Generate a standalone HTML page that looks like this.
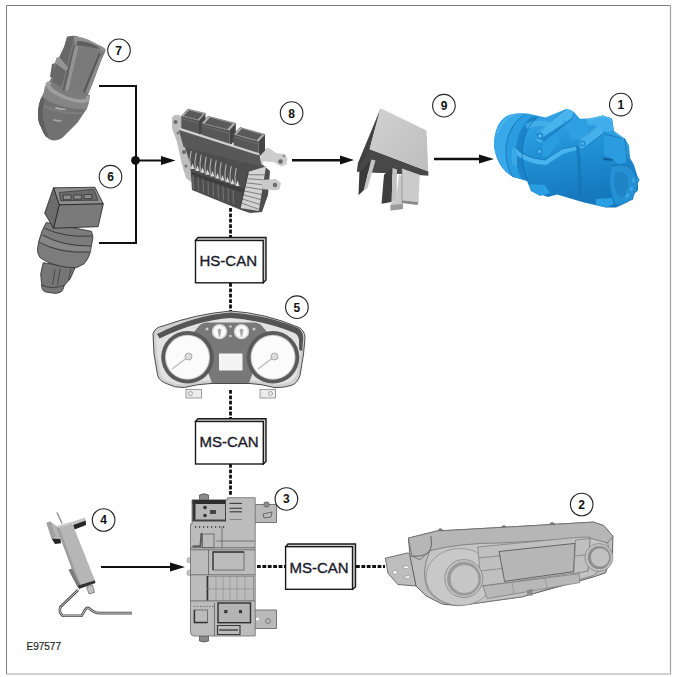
<!DOCTYPE html>
<html><head><meta charset="utf-8">
<style>
html,body{margin:0;padding:0;background:#fff;}
svg{display:block;}
text{font-family:"Liberation Sans",sans-serif;}
</style></head>
<body>
<svg width="675" height="677" viewBox="0 0 675 677">
<defs>
<marker id="ah" markerWidth="10" markerHeight="10" refX="0" refY="0" orient="auto" markerUnits="userSpaceOnUse" viewBox="-15 -5 15 10">
<path d="M-15,-4.5 L0,0 L-15,4.5 Z" fill="#111"/>
</marker>
</defs>
<path d="M6.5,674 L6.5,5.5 L670.5,5.5" fill="none" stroke="#7c7c7c" stroke-width="1"/>
<path d="M670.5,5.5 L670.5,674 L6.5,674" fill="none" stroke="#a4a4a4" stroke-width="1.2"/>

<!-- COMPONENTS -->
<g id="components">
<!-- sensor 7 -->
<g id="s7">
<path d="M43.9,93 Q37,104 38,116.6 Q38.5,124 41,127 Q43.5,134 45.9,136.4 Q50,140.8 54.8,140.5 Q60,139.8 62.7,137.4 L67.7,132.4 L77.6,122.5 L87,108.5 Z" fill="#717171"/>
<path d="M43.9,93 Q37,104 38,116.6 Q38.5,124 41,127 Q43.5,134 45.9,136.4 L49,137 Q43,125 42.5,112 Q43,100 47,95 Z" fill="#5f5f5f"/>
<path d="M55.5,107 Q62,109 66,108.8 L65.5,110 Q61,110.5 55,108.5 Z" fill="#b0b0b0"/>
<path d="M53.5,119 Q58,120.5 62,120 L61.5,121.5 Q57,122 53,120.5 Z" fill="#a8a8a8"/>
<path d="M44,105 Q62,113 84,112.5 L83,114.5 Q62,115 44,107.5 Z" fill="#7e7e7e"/>
<path d="M45,86 L90,95 L88.8,103 L86.8,109.5 Q60,109 42.6,97.5 Z" fill="#858585"/>
<ellipse cx="67.5" cy="91.8" rx="23.5" ry="7.8" transform="rotate(21 67.5 91.8)" fill="#9e9e9e"/>
<ellipse cx="68.5" cy="91" rx="19" ry="5.5" transform="rotate(21 68.5 91)" fill="#7c7c7c"/>
<path d="M67.1,36.7 L73.9,35.8 Q78,36 79.7,37.2 L91.2,41.6 L102.8,47.3 L105.7,49.3 L105.2,51.7 L101.8,58.9 L93.2,82 L87.5,96 Q70,93 53.5,86 L49.5,81 L51.7,77.2 L55.6,61.8 L56.6,57.9 L59.4,57 L64.3,46.4 Z" fill="#7a7a7a"/>
<path d="M67.1,36.7 L73.9,35.8 L72,45 L64,77 L61,87 L52.7,82 L55.6,61.8 L59.4,57 L64.3,46.4 Z" fill="#686868"/>
<path d="M74,37 Q80,36 88,39.5 L103,47 L105.5,50 L103,52 Q95,47 84,45 Q77,44 75.5,44 Z" fill="#909090"/>
<path d="M77,41 Q86,41 97,46 L101,49.5 Q92,47 84,46 L77,45 Z" fill="#5e5e5e"/>
<path d="M74.9,45.4 L78.5,46.3 L68.5,90.5 L64.8,90.5 Z" fill="#939393"/>
<path d="M73.5,45.5 L74.9,45.4 L64.3,91 L62.5,90 Z" fill="#5e5e5e"/>
<path d="M97,55 L101.8,57 L93.2,82 L88.5,93 L85.5,92 Z" fill="#8a8a8a"/>
<path d="M98.5,53.5 L100.5,54 L85,92.5 L83,92 Z" fill="#555"/>
<path d="M56.6,57.9 L59.4,57 L68.1,67.6 L66,71 L55,63 Z" fill="#959595"/>
<path d="M52,64 L55,63 L53,78 L50,77 Z" fill="#666"/>
</g>
<!-- ECU 8 -->
<g id="ecu">
<path d="M172,118 Q174,114 179,115 L183,118 L184,144 L190,150 L191,182 L186,178 L182,165 L177,142 L172,128 Z" fill="#bdbdbd"/>
<circle cx="175.5" cy="122" r="2" fill="#6a6a6a"/>
<circle cx="178" cy="133" r="1.5" fill="#7a7a7a"/>
<circle cx="184" cy="152" r="2" fill="#6a6a6a"/>
<circle cx="186" cy="166" r="1.6" fill="#777"/>
<path d="M184,144 L262,164 L270,171 L268,195 L262,212 L250,213 L241,210 L192,190 L190,163 Z" fill="#4e4e4e"/>
<g fill="#d8d8d8"><path d="M190.5,169.0 L192.5,163.5 L194.5,169.0 Z"/><path d="M195.5,170.9 L197.5,165.4 L199.5,170.9 Z"/><path d="M200.5,172.8 L202.5,167.3 L204.5,172.8 Z"/><path d="M205.5,174.7 L207.5,169.2 L209.5,174.7 Z"/><path d="M210.5,176.6 L212.5,171.1 L214.5,176.6 Z"/><path d="M215.5,178.5 L217.5,173.0 L219.5,178.5 Z"/><path d="M220.5,180.4 L222.5,174.9 L224.5,180.4 Z"/><path d="M225.5,182.3 L227.5,176.8 L229.5,182.3 Z"/><path d="M230.5,184.2 L232.5,178.7 L234.5,184.2 Z"/><path d="M235.5,186.1 L237.5,180.6 L239.5,186.1 Z"/></g>
<g fill="none" stroke="#c8c8c8" stroke-width="0.9"><path d="M191.2,151.0 Q189.2,159.0 190.3,168.0" /><path d="M196.2,152.9 Q194.2,160.9 195.3,169.9" /><path d="M201.2,154.8 Q199.2,162.8 200.3,171.8" /><path d="M206.2,156.7 Q204.2,164.7 205.3,173.7" /><path d="M211.2,158.6 Q209.2,166.6 210.3,175.6" /><path d="M216.2,160.5 Q214.2,168.5 215.3,177.5" /><path d="M221.2,162.4 Q219.2,170.4 220.3,179.4" /><path d="M226.2,164.3 Q224.2,172.3 225.3,181.3" /><path d="M231.2,166.2 Q229.2,174.2 230.3,183.2" /><path d="M236.2,168.1 Q234.2,176.1 235.3,185.1" /></g>
<path d="M191.5,172 L244,189 L244,193 L191.5,176 Z" fill="#3e3e3e"/>
<g fill="none" stroke="#707070" stroke-width="1.2"><line x1="193.0" y1="175.0" x2="193.5" y2="189.0"/><line x1="198.0" y1="176.9" x2="198.5" y2="190.9"/><line x1="203.0" y1="178.8" x2="203.5" y2="192.8"/><line x1="208.0" y1="180.7" x2="208.5" y2="194.7"/><line x1="213.0" y1="182.6" x2="213.5" y2="196.6"/><line x1="218.0" y1="184.5" x2="218.5" y2="198.5"/><line x1="223.0" y1="186.4" x2="223.5" y2="200.4"/><line x1="228.0" y1="188.3" x2="228.5" y2="202.3"/><line x1="233.0" y1="190.2" x2="233.5" y2="204.2"/></g>
<path d="M248.4,171.7 L266,166.5 L258.8,211 L240.2,207.9 Z" fill="#d2d2d2"/>
<g stroke="#6a6a6a" stroke-width="0.8"><line x1="247.5" y1="174.7" x2="265.2" y2="174.9"/><line x1="246.6" y1="178.7" x2="264.4" y2="179.9"/><line x1="245.7" y1="182.8" x2="263.6" y2="184.8"/><line x1="244.8" y1="186.8" x2="262.8" y2="189.8"/><line x1="243.8" y1="190.8" x2="262.0" y2="194.7"/><line x1="242.9" y1="194.8" x2="261.2" y2="199.7"/><line x1="242.0" y1="198.9" x2="260.4" y2="204.6"/><line x1="241.1" y1="202.9" x2="259.6" y2="209.6"/></g>
<line x1="248.4" y1="171.7" x2="240.2" y2="207.9" stroke="#3a3a3a" stroke-width="1"/>
<path d="M260.9,180 L276,179 L281,183 L279.5,189 L276.4,190.3 L262.9,189.3 Z" fill="#cacaca"/>
<circle cx="275" cy="185" r="2.2" fill="#6a6a6a"/>
<path d="M259.4,150 L268.7,147.8 L276,153 L284.3,154 L287.4,158.2 L286.4,164.4 L281.2,166.5 L273.9,162.3 L263.6,161.3 L262,166.5 Z" fill="#cdcdcd"/>
<circle cx="280.5" cy="161.5" r="2.3" fill="#6a6a6a"/>
<circle cx="284" cy="156" r="1.3" fill="#888"/>
<path d="M181.3,116.3 L199.0,120.5 L199.0,136.5 L181.3,132.3 Z" fill="#575757"/>
<path d="M199.0,120.5 L205.5,113.4 L205.5,129.4 L199.0,136.5 Z" fill="#444"/>
<path d="M181.3,116.3 L187.8,109.2 L205.5,113.4 L199.0,120.5 Z" fill="#b5b5b5" stroke="#4a4a4a" stroke-width="0.6"/>
<path d="M183.5,116.0 L188.8,110.2 L203.3,113.7 L198.0,119.5 Z" fill="#5a5a5a"/>
<line x1="182.3" y1="118.8" x2="198.0" y2="123.0" stroke="#7a7a7a" stroke-width="0.6"/>
<path d="M201.4,123.4 L229.3,130.5 L229.3,146.5 L201.4,139.4 Z" fill="#575757"/>
<path d="M229.3,130.5 L235.8,123.4 L235.8,139.4 L229.3,146.5 Z" fill="#444"/>
<path d="M201.4,123.4 L207.9,116.3 L235.8,123.4 L229.3,130.5 Z" fill="#b5b5b5" stroke="#4a4a4a" stroke-width="0.6"/>
<path d="M204.5,123.4 L209.8,117.6 L232.7,123.4 L227.4,129.2 Z" fill="#5a5a5a"/>
<line x1="202.4" y1="125.9" x2="228.3" y2="133.0" stroke="#7a7a7a" stroke-width="0.6"/>
<path d="M233.5,134.6 L258.5,141.6 L258.5,157.6 L233.5,150.6 Z" fill="#575757"/>
<path d="M258.5,141.6 L265.0,134.5 L265.0,150.5 L258.5,157.6 Z" fill="#444"/>
<path d="M233.5,134.6 L240.0,127.5 L265.0,134.5 L258.5,141.6 Z" fill="#b5b5b5" stroke="#4a4a4a" stroke-width="0.6"/>
<path d="M236.3,134.6 L241.7,128.8 L262.2,134.5 L256.8,140.3 Z" fill="#5a5a5a"/>
<line x1="234.5" y1="137.1" x2="257.5" y2="144.1" stroke="#7a7a7a" stroke-width="0.6"/>
<path d="M178.4,128.5 L259.4,154.5 L262,167 L183.6,147 Z" fill="#585858"/>
<path d="M178.4,127.3 L259.4,153.3 L259.6,155.6 L178.4,129.8 Z" fill="#d0d0d0"/>
</g>
<!-- relay 9 -->
<g id="relay">
<defs>
<linearGradient id="rg" x1="0" y1="0" x2="1" y2="1">
<stop offset="0" stop-color="#d2d2d2"/>
<stop offset="1" stop-color="#bdbdbd"/>
</linearGradient>
<linearGradient id="rd" x1="0" y1="0" x2="1" y2="0">
<stop offset="0" stop-color="#3e3e3e"/>
<stop offset="1" stop-color="#5e5e5e"/>
</linearGradient>
</defs>
<path d="M380.6,108.2 L369.6,149.3 L428.2,171.4 L428.2,175.5 L356.8,171.4 L358,163 Z" fill="url(#rd)"/>
<path d="M369.6,149.3 L428.2,171.4 L428.2,175.5 L356.8,171.4 Z" fill="#484848"/>
<path d="M380.6,108.2 L426.5,130.6 L428.2,171.4 L369.6,149.3 Z" fill="url(#rg)"/>
<path d="M366,166 L371.3,159.5 L364,190 L358.5,195.2 L359.4,172 Z" fill="#3a3a3a"/>
<path d="M371.3,159.5 L375.5,160.4 L367.5,188 L363.5,191 Z" fill="#c4c4c4"/>
<path d="M384,174.8 L392.5,168 L391.7,202 L381.5,203.7 Z" fill="#3e3e3e"/>
<path d="M392.5,168 L397,169.5 L396.5,201 L391.7,202 Z" fill="#c2c2c2"/>
<path d="M399,174.8 L402.5,176 L403,209 L390.5,210.5 L391,203 L396,201 Z" fill="#c8c8c8"/>
<path d="M390.5,205 L403,204 L403,209 L390.5,210.5 Z" fill="#9a9a9a"/>
<path d="M402,168.5 L419.7,174.8 L418.5,202 L402,200.3 Z" fill="#cbcbcb"/>
<path d="M402,200.3 L418.5,202 L417.5,205 L401.5,203 Z" fill="#8a8a8a"/>
<line x1="402" y1="168.5" x2="402" y2="200.3" stroke="#777" stroke-width="0.6"/>
</g>
<!-- compressor 1 -->
<defs>
<linearGradient id="cg" x1="0" y1="0" x2="0.25" y2="1">
<stop offset="0" stop-color="#3aa9ea"/>
<stop offset="0.45" stop-color="#2294d8"/>
<stop offset="1" stop-color="#1678bd"/>
</linearGradient>
</defs>
<g id="comp">
<path d="M494,146 Q494,122 509,115 Q516,112.5 528,113.5 L545.6,117.6 L566,109 L574,112 L580,118.7 L590,118.5 L603,115.5 L612,118.5 L614,131 L625,139 L629,146 L630,158 L634,165 L638,178 L638,190 L634,194 L633,199 L627,202.5 L616,207.5 L606,207.5 L584,202.5 L557,194.5 L548,197 L531,191 L527,181 L513,177 Q497,168 494,146 Z" fill="url(#cg)"/>
<path d="M494,146 Q494,122 509,115 Q516,112.5 526,114 Q510,122 506,146 Q505,166 513,177 Q497,168 494,146 Z" fill="#38a8e8"/>
<path d="M506,146 Q510,122 526,114 L533,116 Q518,126 516,150 Q516,170 522,179 L513,177 Q505,166 506,146 Z" fill="#2a9ce0"/>
<path d="M516,150 Q518,126 533,116 L538,117 Q524,128 522,150 Q522,168 528,181 L522,179 Q516,170 516,150 Z" fill="#1b84c8"/>
<path d="M525,124 Q538,118 552,123 L549,127 Q536,124 527,129 Z" fill="#4ab5ee" opacity="0.7"/>
<path d="M536,135 L565.5,110 Q570,108 573.5,112 Q575,116 572,119 L543.5,141.5 Q539,143 536.5,140 Z" fill="#48b4ee"/>
<path d="M540,139 L572,118 L573.5,112 Q575,116 572,119 L543.5,141.5 Z" fill="#1f88cc"/>
<circle cx="539.9" cy="136" r="3.6" fill="#1f8ad0"/>
<circle cx="539.9" cy="136" r="1.7" fill="#57bff2"/>
<path d="M543,141.5 L556,131 L560,140 L548,156 L542,156 Z" fill="#2a9de0"/>
<circle cx="539.5" cy="151.5" r="3.2" fill="#1f8ad0"/>
<circle cx="539.5" cy="151.5" r="1.4" fill="#57bff2"/>
<path d="M515,147 Q524,158 545,160 L562,149 L576,146 L577,150 L563,154 L546,165 Q525,164 513,152 Z" fill="#48b4ee"/>
<path d="M512,148 L517,150 L517,166 L512,164 Z" fill="#3aa8e6"/>
<path d="M563,121 L580,119 L590,126 L586,138 L572,140 Z" fill="#2e9fe2"/>
<path d="M579,141 L597,127.5 Q601,125 603,129 L604,133 L584,148 Q580,149 578.5,146 Z" fill="#44b1ec"/>
<circle cx="582.5" cy="143.6" r="3" fill="#1f8ad0"/>
<circle cx="582.5" cy="143.6" r="1.4" fill="#57bff2"/>
<path d="M586,119 L603,115.5 L612,118.5 L614,131 L606,132 L597,126 L588,125 Z" fill="#40aeea"/>
<path d="M604,134 L614,131 L625,139 L629,146 L627,162 L620,165 L604,154 Z" fill="#2b9ce0"/>
<path d="M603.4,157.7 L612.7,159 L612.7,161 L603.4,160 Z" fill="#0e5a98"/>
<path d="M576,146 Q579,170 578,196 L581,197 Q582,170 579,145 Z" fill="#1470b0" opacity="0.6"/>
<path d="M612,166 Q626,162 632,170 L638,182 L634,196 L627,202.5 L616,205 Q607,188 612,166 Z" fill="#2591d4"/>
<path d="M615,172 Q624,170 628,178 Q630,190 622,198 Q616,196 614,185 Z" fill="#1f84c6"/>
<circle cx="634.5" cy="180" r="2.6" fill="#3aa8e6"/>
<circle cx="632" cy="189" r="2.3" fill="#3aa8e6"/>
<circle cx="628" cy="196" r="2.2" fill="#3aa8e6"/>
<g fill="none" stroke="#0f64a6" stroke-width="0.7" opacity="0.85">
<path d="M526,114 Q510,122 506,146 Q505,166 513,177"/>
<path d="M538,117 Q524,128 522,150 Q522,168 528,181"/>
<path d="M536,135 L565.5,110 M543.5,141.5 L572,119"/>
<path d="M579,141 L597,127.5 M584,148 L604,133"/>
<path d="M515,147 Q524,158 545,160 L562,149 L576,146"/>
<path d="M604,134 L625,139 L627,162"/>
<path d="M612,166 Q626,162 632,170"/>
</g>
<g fill="none" stroke="#6cc8f4" stroke-width="0.8" opacity="0.9">
<path d="M497,133 Q503,118 516,114"/>
<path d="M566.5,110.5 L537,133"/>
<path d="M598,126.5 L580,140"/>
<path d="M588,119.5 L603,116 L611,119"/>
<path d="M614,132 L624,139"/>
</g>
<g fill="#2a9be0" stroke="#0f64a6" stroke-width="0.5">
<circle cx="637" cy="180" r="2.2"/>
<circle cx="635" cy="190" r="2"/>
<circle cx="631" cy="198" r="2"/>
</g>
<path d="M529,184 L545,185 L550,193 L540,196 L531,191 Z" fill="#2a9ee0"/>
<path d="M596,199 L612,198 L614,204 L606,207.5 L596,205 Z" fill="#2aa0e2"/>
</g>
<!-- cluster 5 -->
<g id="cluster">
<rect x="186" y="389.5" width="15.5" height="8.5" fill="#ececec" stroke="#777" stroke-width="0.7"/>
<circle cx="190.5" cy="393.5" r="2" fill="none" stroke="#888" stroke-width="0.7"/>
<rect x="260" y="389.5" width="15.5" height="8.5" fill="#ececec" stroke="#777" stroke-width="0.7"/>
<circle cx="270.5" cy="393.5" r="2" fill="none" stroke="#888" stroke-width="0.7"/>
<path d="M153,334 Q155,327 163,326 Q196,314 230.6,311 Q265,313 299,327.5 Q305,331 305,338 L303.5,354 L300,375.5 Q297,384 291,385.5 Q283,388 274,387.5 Q262,384 250,383.5 L211,383.5 Q197,384 184.5,387.5 Q175,388 167.5,384 Q159,381 157.7,375.5 L154,354 Z" fill="#cfcfcf" stroke="#4a4a4a" stroke-width="1"/>
<path d="M156,336 Q158,331 165,330 Q197,318 230.6,315 Q264,317 296,330.5 Q301,333 301.5,339 L300,354 L297,374 Q294,381 289,382.5 Q282,384.5 274,384.5 Q262,381 250,380.5 L211,380.5 Q197,381 185,384.5 Q176,385 169,381.5 Q162,379 160.5,374 L157,354 Z" fill="#e2e2e2"/>
<path d="M157,334 Q195,315 230.6,312.5 Q266,315 298,328 Q303,331 303.2,338 L302.3,351 L299.2,350 L299,340 Q298.5,335 294.5,333 Q264,320.5 230.6,318 Q196,320.5 159.5,338.5 Z" fill="#555"/>
<path d="M199,326 Q202,322.5 207,322.5 L254,322.5 Q259,322.5 262,326 L268,333 L249,383 L212,383 L193,333 Z" fill="#787878"/>
<circle cx="187.5" cy="357.3" r="26.3" fill="#5a5a5a"/>
<circle cx="187.5" cy="357.3" r="22.5" fill="#c8c8c8"/>
<circle cx="187.5" cy="357.3" r="21.5" fill="#fbfbfb"/>
<circle cx="273" cy="357.3" r="26.3" fill="#5a5a5a"/>
<circle cx="273" cy="357.3" r="22.5" fill="#c8c8c8"/>
<circle cx="273" cy="357.3" r="21.5" fill="#fbfbfb"/>
<line x1="188" y1="357" x2="172" y2="369" stroke="#bbb" stroke-width="1.3"/>
<circle cx="188.5" cy="356.5" r="3.5" fill="#ddd" stroke="#999" stroke-width="0.8"/>
<line x1="274" y1="357" x2="258" y2="369" stroke="#bbb" stroke-width="1.3"/>
<circle cx="274.5" cy="356.5" r="3.5" fill="#ddd" stroke="#999" stroke-width="0.8"/>
<circle cx="219.5" cy="331.7" r="7.6" fill="#d8d8d8"/>
<circle cx="219.5" cy="331.7" r="6.2" fill="#fafafa"/>
<circle cx="241.5" cy="331.7" r="7.6" fill="#d8d8d8"/>
<circle cx="241.5" cy="331.7" r="6.2" fill="#fafafa"/>
<path d="M217.5,330 Q219.5,327 221.5,330 L220,337 L219,337 Z" fill="#aaa"/>
<path d="M239.5,330 Q241.5,327 243.5,330 L242,337 L241,337 Z" fill="#aaa"/>
<circle cx="207" cy="329" r="1.5" fill="#ccc"/>
<circle cx="254" cy="329" r="1.5" fill="#ccc"/>
<circle cx="230.5" cy="326.5" r="1.3" fill="#ccc"/>
<circle cx="230.5" cy="336" r="1.3" fill="#ccc"/>
<rect x="219" y="353.5" width="23.5" height="17" fill="#f4f4f4"/>
</g>
<!-- BCM 3 -->
<g id="bcm">
<path d="M199.5,636 L208.5,636 L208.5,641 Q204,643 199.5,641 Z" fill="#8a8a8a" stroke="#444" stroke-width="0.7"/>
<path d="M199.5,495 Q204,492.5 208.5,495 L208.5,500 L199.5,500 Z" fill="#8a8a8a" stroke="#444" stroke-width="0.7"/>
<path d="M254,504.5 L276.5,504.5 L276.5,522.5 L254,522.5 Z" fill="#bababa" stroke="#5a5a5a" stroke-width="0.8"/>
<circle cx="266.5" cy="504.5" r="2.8" fill="#888" stroke="#555" stroke-width="0.5"/>
<path d="M263,514 L272,512 L271,517 L264,518 Z" fill="none" stroke="#555" stroke-width="0.8"/>
<path d="M254,610 L276.5,610 L276.5,628.5 L254,628.5 Z" fill="#bababa" stroke="#5a5a5a" stroke-width="0.8"/>
<circle cx="257.5" cy="619" r="1.6" fill="#fff"/>
<circle cx="268" cy="621" r="2.4" fill="none" stroke="#666" stroke-width="0.8"/>
<path d="M191,557 L187,558.5 L187,562 L191,563 Z M191,569.5 L187,571 L187,575 L191,576 Z" fill="#c4c4c4" stroke="#999" stroke-width="0.5"/>
<path d="M192,499.8 L227.5,499.8 L227.5,497.7 L255.2,497.7 L255.2,636 L194,636 Q190.5,636 190.5,632 L190.5,524 L192,524 Z" fill="#bcbcbc" stroke="#6a6a6a" stroke-width="0.8"/>
<path d="M192.5,500 L226,500 L226,521 L192.5,521 Z" fill="#b6b6b6"/>
<path d="M192.5,500 L226,500 L226,504 L192.5,504 Z" fill="#2e2e2e"/>
<path d="M192.5,500 L195.5,500 L195.5,521 L192.5,521 Z" fill="#333"/>
<path d="M192.5,519.5 L226,519.5 L226,521.5 L192.5,521.5 Z" fill="#444"/>
<line x1="225.5" y1="500" x2="225.5" y2="521.5" stroke="#444" stroke-width="1"/>
<circle cx="205" cy="507.5" r="1.8" fill="#333"/>
<circle cx="205" cy="515.5" r="1.8" fill="#333"/>
<path d="M210,510 L216,510 L216,514 L210,514 Z" fill="#444"/>
<g stroke="#3a3a3a" stroke-width="1.1">
<line x1="229.5" y1="503.4" x2="242" y2="503.4"/>
<line x1="229.5" y1="508.3" x2="242" y2="508.3"/>
<line x1="229.5" y1="511.8" x2="242" y2="511.8"/>
</g>
<g stroke="#777" stroke-width="0.8">
<line x1="229.5" y1="519.5" x2="242" y2="519.5"/>
<line x1="195" y1="527" x2="225" y2="527" stroke="#333" stroke-width="1.6" stroke-dasharray="1.2 2.8"/>
</g>
<g stroke="#5a5a5a" stroke-width="0.75" fill="none">
<path d="M201.5,533 L200.5,546 L192.5,546.5" stroke-width="2"/>
<rect x="202.5" y="534" width="11.5" height="13.7"/>
<line x1="190.5" y1="547.7" x2="255" y2="547.7"/>
<line x1="190.5" y1="549.8" x2="255" y2="549.8"/>
<line x1="208.5" y1="549.8" x2="208.5" y2="575"/>
<rect x="213" y="552" width="31" height="18"/>
<line x1="216.5" y1="541" x2="255" y2="541"/>
<line x1="222" y1="526" x2="222" y2="547.7"/>
<line x1="190.5" y1="574.8" x2="255" y2="574.8"/>
<line x1="190.5" y1="600.9" x2="255" y2="600.9"/>
<rect x="207" y="576.3" width="46.5" height="24" stroke="#888"/>
<line x1="207.5" y1="576" x2="207.5" y2="600.5" stroke="#333" stroke-width="1.6"/>
<line x1="216" y1="576.3" x2="216" y2="600.3" stroke="#8a8a8a" stroke-width="0.6"/>
<line x1="223" y1="576.3" x2="223" y2="600.3" stroke="#8a8a8a" stroke-width="0.6"/>
<line x1="230" y1="576.3" x2="230" y2="600.3" stroke="#8a8a8a" stroke-width="0.6"/>
<line x1="237" y1="576.3" x2="237" y2="600.3" stroke="#8a8a8a" stroke-width="0.6"/>
<line x1="245" y1="576.3" x2="245" y2="600.3" stroke="#8a8a8a" stroke-width="0.6"/>
<line x1="207" y1="588.9" x2="253.5" y2="588.9" stroke="#8a8a8a" stroke-width="0.6"/>
<rect x="194" y="610" width="13.5" height="12.7"/>
<line x1="194" y1="622.5" x2="207.5" y2="622.5" stroke="#333" stroke-width="1.5"/>
<line x1="194.5" y1="610" x2="194.5" y2="622.5" stroke="#333" stroke-width="1.3"/>
<line x1="194" y1="606.5" x2="215" y2="606.5" stroke-dasharray="1.5 1.5"/>
<line x1="214.5" y1="603" x2="214.5" y2="636"/>
</g>
<rect x="218" y="603" width="32.5" height="19.7" fill="#b4b4b4" stroke="#2e2e2e" stroke-width="1.4"/>
<rect x="224.3" y="610" width="3" height="3.2" fill="#333"/>
<rect x="239" y="610" width="3" height="3.2" fill="#333"/>
<path d="M217.5,625.5 L240,625.5 L240,634.5 L217.5,634.5 Z" fill="none" stroke="#3a3a3a" stroke-width="1.2"/>
<line x1="219" y1="630" x2="238" y2="630" stroke="#333" stroke-width="1.3"/>
<path d="M213,570 L213,552 L244,552" fill="none" stroke="#3a3a3a" stroke-width="1.3"/>
</g>
<!-- sensor 4 -->
<g id="s4">
<line x1="57" y1="512.4" x2="62" y2="523.6" stroke="#777" stroke-width="1.3"/>
<line x1="57.3" y1="512.4" x2="62.3" y2="523.6" stroke="#ccc" stroke-width="0.4"/>
<path d="M78.1,590 L60.4,607 Q58.5,613 63,615.8 L81.6,615.8 L85.2,609.5 Q87.8,606.5 90,609 L93.2,611.3 Q96,613.1 100.2,613.1 L132,613.1" fill="none" stroke="#4a4a4a" stroke-width="2.6"/>
<path d="M78.1,590 L60.4,607 Q58.5,613 63,615.8 L81.6,615.8 L85.2,609.5 Q87.8,606.5 90,609 L93.2,611.3 Q96,613.1 100.2,613.1 L132,613.1" fill="none" stroke="#ddd" stroke-width="0.9"/>
<path d="M71.6,522.1 L85,517.6 L85.7,520.6 L73.1,525 Z" fill="#c4c4c4"/>
<path d="M73.1,525 L85.7,520.6 L86.1,525 L74.6,529.5 Z" fill="#262626"/>
<path d="M46.4,522.8 L50.5,521.5 L56.8,526.5 L60.5,539.1 L51.6,538.4 Z" fill="#b4b4b4"/>
<path d="M46.4,522.8 L50.5,521.5 L55.5,536 L51.6,538.4 Z" fill="#a0a0a0"/>
<path d="M51.6,538.4 L60.5,539.1 L61,543.2 L55,544 Z" fill="#262626"/>
<path d="M56.1,526.5 L71.6,522.1 L94.9,580.3 L78.1,585.6 Z" fill="#b6b6b6"/>
<path d="M56.1,526.5 L58.5,525.8 L80.5,584.8 L78.1,585.6 Z" fill="#9e9e9e"/>
<path d="M56.1,526.5 L71.6,522.1 L72.5,524 L57,528 Z" fill="#cacaca"/>
<path d="M68.4,569.7 L72,568.5 L80.5,586 L78.1,588.3 Z" fill="#7a7a7a"/>
<path d="M78.1,585.6 L94.9,580.3 L95.5,583 L79,589 Z" fill="#333"/>
<path d="M86.5,587 L92.5,585 L94.5,592.5 L89,594 Z" fill="#c0c0c0" stroke="#555" stroke-width="0.6"/>
</g>
<!-- climate panel 2 -->
<g id="hvac">
<path d="M385.3,558.2 L407.6,552.9 L412,555 L416,586 L397.8,584.5 L388,573.3 Z" fill="#bdbdbd" stroke="#555" stroke-width="0.8"/>
<ellipse cx="395" cy="572.4" rx="2.2" ry="1.8" fill="#fff" stroke="#666" stroke-width="0.4"/>
<rect x="403.5" y="566" width="5" height="2.5" fill="#f4f4f4" stroke="#777" stroke-width="0.4"/>
<rect x="405" y="576" width="5" height="2.5" fill="#f4f4f4" stroke="#777" stroke-width="0.4"/>
<path d="M408.4,538.1 L436.9,531 L500,527.5 L593.4,522.1 L604,525.7 L612.9,536.3 L612.5,553 L605.6,572.8 L593.4,577 L522.2,596.8 L458.2,605.7 L442,604 L426.2,596 L416,586 L410,556 Z" fill="#bebebe" stroke="#555" stroke-width="0.9"/>
<path d="M408.4,538.1 L436.9,531 L500,527.5 L593.4,522.1 L604,525.7 L612.9,536.3 L607.6,543 L589.8,541.7 L500,546 L429.8,550.6 L420,560 L412,556 Z" fill="#b6b6b6" stroke="#666" stroke-width="0.7"/>
<path d="M430.8,536 Q433,548 428,553 Q422,557 411,556" fill="none" stroke="#666" stroke-width="1"/>
<path d="M430,550.6 Q460,543 500,543 L589.8,538 L607.6,543 L611.1,561.2 L593.4,575.5 L522.2,596.8 L458.2,605.7 Q436,603 428,590 Q420,572 430,550.6 Z" fill="#c4c4c4" stroke="#6a6a6a" stroke-width="0.7"/>
<ellipse cx="460" cy="577" rx="34" ry="28.5" fill="#c8c8c8" stroke="#8a8a8a" stroke-width="0.7"/>
<path d="M477.8,547 L576,537.5 L590,537 L588,571 L504.6,583 L481,586 Z" fill="#c0c0c0" stroke="#777" stroke-width="0.7"/>
<line x1="479" y1="558" x2="501.5" y2="555.5" stroke="#777" stroke-width="0.7"/>
<line x1="480" y1="571" x2="502.3" y2="568.5" stroke="#777" stroke-width="0.7"/>
<path d="M499,551.5 L575,543.4 L573.6,571.6 L504.6,581.4 Z" fill="#b6b6b6" stroke="#5a5a5a" stroke-width="0.9"/>
<path d="M575.6,540 L590,538.5 L588,571 L573.8,573.7 Z" fill="#c0c0c0" stroke="#777" stroke-width="0.7"/>
<line x1="575" y1="556" x2="589" y2="554.5" stroke="#777" stroke-width="0.7"/>
<path d="M483,586 L579,573.7 L580,582.6 L487,598.6 Z" fill="#b8b8b8" stroke="#777" stroke-width="0.7"/>
<line x1="512" y1="582" x2="514" y2="594" stroke="#888" stroke-width="0.6"/>
<line x1="545" y1="578" x2="547" y2="588" stroke="#888" stroke-width="0.6"/>
<circle cx="463.8" cy="578.6" r="19" fill="#c4c4c4" stroke="#7a7a7a" stroke-width="0.7"/>
<circle cx="464" cy="578.8" r="17" fill="#9a9a9a"/>
<circle cx="464.5" cy="579" r="14.5" fill="#c6c6c6" stroke="#8a8a8a" stroke-width="0.6"/>
<circle cx="598.9" cy="557.5" r="14" fill="#c0c0c0" stroke="#777" stroke-width="0.6"/>
<circle cx="599.3" cy="557.5" r="11.5" fill="#8e8e8e"/>
<circle cx="600" cy="557.5" r="9.5" fill="#c2c2c2" stroke="#888" stroke-width="0.5"/>
<path d="M527,590 L532.7,589 L532.7,595.5 L527,595.5 Z" fill="#8a8a8a"/>
<path d="M437,531 L440,528 L444,530.5 Z M500,527.5 L504,525 L507,527 Z M548,524.5 L552,522 L556,524 Z" fill="#777"/>
</g>
<!-- sensor 6 -->
<g id="s6">
<path d="M43.2,262.7 L40.7,273.9 L41.9,287.7 Q43,292 46.3,292.1 L55.1,293.4 Q61,293 62.6,290.2 L64.5,285.2 L70.1,279 L75.1,267.7 Z" fill="#767676" stroke="#2a2a2a" stroke-width="0.8"/>
<path d="M42,285 Q52,290 64.5,285.2" fill="none" stroke="#2a2a2a" stroke-width="0.7"/>
<path d="M55,269 L52.5,285 M60,269 L57.5,285 M71,269 L68.5,280" fill="none" stroke="#333" stroke-width="0.7"/>
<path d="M46.3,222.5 L91.4,231.3 Q93.5,236 92.7,238.8 L90.2,252.6 Q88,260 83.9,263.9 L76.4,267.7 Q60,268 46.3,261.4 L40,257.6 Q37,253 37.5,248.9 L38.8,241.3 L41.9,231.3 Z" fill="#7c7c7c" stroke="#2a2a2a" stroke-width="0.8"/>
<path d="M44,228 Q65,238 92,236" fill="none" stroke="#2a2a2a" stroke-width="0.8"/>
<path d="M42.5,235 Q62,246 90.5,246" fill="none" stroke="#2a2a2a" stroke-width="0.8"/>
<path d="M39,242 Q60,254 89.5,252" fill="none" stroke="#2a2a2a" stroke-width="0.8"/>
<path d="M42,236 Q62,247 90.5,247 L90,251 Q60,252 39.5,242 Z" fill="#8a8a8a" opacity="0.8"/>
<path d="M53.5,187.8 L95,187.3 L103.3,203.9 L59.2,204.9 Z" fill="#8e8e8e" stroke="#222" stroke-width="0.8"/>
<path d="M59.2,204.9 L103.3,203.9 L98.1,226.7 L53.5,228.2 Z" fill="#7a7a7a" stroke="#222" stroke-width="0.8"/>
<path d="M53.5,187.8 L59.2,204.9 L53.5,228.2 L44.7,213.2 Z" fill="#6c6c6c" stroke="#222" stroke-width="0.8"/>
<path d="M59.2,192.5 L93.9,189.3 L98,200.2 L60.7,200.7 Z" fill="#6a6a6a" stroke="#333" stroke-width="0.7"/>
<path d="M63.3,195 L71.1,195 L71.1,199.7 L63.3,199.7 Z M73.7,195 L81.5,195 L81.5,199.2 L73.7,199.2 Z M84.1,194.5 L91.8,194.5 L91.8,198.7 L84.1,198.7 Z" fill="#8a8a8a" stroke="#2a2a2a" stroke-width="0.7"/>
</g>
</g>

<!-- connection lines -->
<g fill="none" stroke="#111" stroke-width="2">
<polyline points="99,86 136,86 136,243 99,243"/>
<line x1="136" y1="160.5" x2="162" y2="160.5"/>
<line x1="292" y1="160.3" x2="341" y2="160.3" stroke-width="2.5"/>
<line x1="434" y1="159" x2="480" y2="159" stroke-width="2.5"/>
<line x1="101" y1="567" x2="171" y2="567"/>
</g>
<circle cx="135.5" cy="160.3" r="4.4" fill="#111"/>
<path d="M161,156 L175.5,160.5 L161,165 Z" fill="#111"/>
<path d="M340,155.5 L354,160 L340,164.5 Z" fill="#111"/>
<path d="M479,154.5 L494,159 L479,163.5 Z" fill="#111"/>
<path d="M170,562.5 L185,567 L170,571.5 Z" fill="#111"/>

<g fill="none" stroke="#111" stroke-width="2.8" stroke-dasharray="3.8 1.6">
<line x1="230.5" y1="208" x2="230.5" y2="238"/>
<line x1="230.5" y1="283" x2="230.5" y2="311"/>
<line x1="230.5" y1="390" x2="230.5" y2="419"/>
<line x1="230.5" y1="464" x2="230.5" y2="496"/>
<line x1="257" y1="566.5" x2="286" y2="566.5"/>
<line x1="356" y1="566.5" x2="385" y2="566.5"/>
</g>

<!-- CAN boxes -->
<g stroke="#1a1a1a" stroke-width="1.4">
<path d="M195.5,240.5 L198,237.5 L266,237.5 L266,280 L263.2,282.8 Z" fill="#cdcdcd"/>
<rect x="195.5" y="240.5" width="67.7" height="42.3" fill="#fff"/>
<path d="M195.5,421.5 L198,418.8 L266,418.8 L266,461.5 L263.3,464 Z" fill="#cdcdcd"/>
<rect x="195.5" y="421.5" width="67.8" height="42.5" fill="#fff"/>
<path d="M285.6,546.7 L288,544 L355.5,544 L355.5,587 L352.5,589.3 Z" fill="#cdcdcd"/>
<rect x="285.6" y="546.7" width="66.9" height="42.6" fill="#fff"/>
</g>
<g font-size="15" fill="#1a1a2a" stroke="#1a1a2a" stroke-width="0.35" text-anchor="middle">
<text x="228.3" y="266">HS-CAN</text>
<text x="229" y="447">MS-CAN</text>
<text x="319" y="573">MS-CAN</text>
</g>

<!-- label circles -->
<g fill="#fff" stroke="#222" stroke-width="1.1">
<circle cx="119" cy="50.3" r="11.3"/>
<circle cx="110.5" cy="176.7" r="11.3"/>
<circle cx="291.6" cy="113.1" r="11.3"/>
<circle cx="443.9" cy="105.7" r="11.3"/>
<circle cx="620.8" cy="104.6" r="11.3"/>
<circle cx="296.9" cy="307.2" r="11.3"/>
<circle cx="286.4" cy="499" r="11.3"/>
<circle cx="581.7" cy="504.5" r="11.3"/>
<circle cx="103.6" cy="520" r="11.3"/>
</g>
<g font-size="12" font-weight="bold" fill="#111" text-anchor="middle">
<text x="118.6" y="54.9">7</text>
<text x="110.5" y="181">6</text>
<text x="291.6" y="117.6">8</text>
<text x="444.2" y="110">9</text>
<text x="620.8" y="109">1</text>
<text x="296.9" y="311.6">5</text>
<text x="286.4" y="503.4">3</text>
<text x="581.7" y="508.9">2</text>
<text x="103.6" y="524.4">4</text>
</g>
<text x="26.5" y="650" font-size="10" fill="#1a1a1a" stroke="#1a1a1a" stroke-width="0.15">E97577</text>
</svg>
</body></html>
